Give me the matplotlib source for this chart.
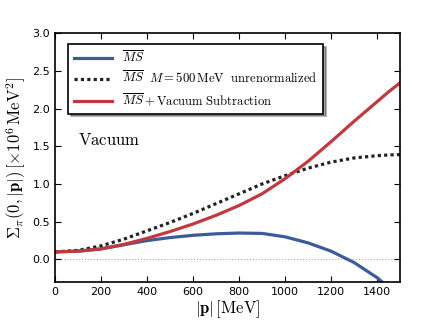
import matplotlib
matplotlib.use('Agg')
import matplotlib.pyplot as plt

plt.rcParams['mathtext.fontset'] = 'cm'

# momentum grid [MeV]
p = [0, 100, 200, 300, 400, 500, 600, 700, 800, 900, 1000, 1100, 1200, 1300, 1400, 1450, 1500]

# MSbar (blue)
ms = [0.10, 0.11, 0.14, 0.195, 0.25, 0.29, 0.32, 0.34, 0.35, 0.345, 0.30, 0.22, 0.11, -0.04, -0.24, -0.37, -0.50]
# MSbar M=500 MeV unrenormalized (dotted)
ms_unren = [0.10, 0.12, 0.18, 0.27, 0.38, 0.49, 0.61, 0.74, 0.87, 1.00, 1.11, 1.21, 1.29, 1.345, 1.375, 1.385, 1.39]
# MSbar + vacuum subtraction (red)
ms_vac = [0.10, 0.11, 0.14, 0.20, 0.28, 0.37, 0.47, 0.585, 0.715, 0.87, 1.07, 1.30, 1.56, 1.83, 2.09, 2.22, 2.34]

labels = [r'$\overline{MS}$',
          r'$\overline{MS}\ \ M=500\,\mathrm{MeV}\ \ \mathrm{unrenormalized}$',
          r'$\overline{MS}+\mathrm{Vacuum\ Subtraction}$']

blue = '#3A5C98'
red = '#C1393F'

fig = plt.figure(figsize=(4.21, 3.28), dpi=100)
ax = fig.add_axes([0.131, 0.140, 0.819, 0.759])

ax.axhline(0, color='#aaaaaa', lw=0.8, ls=':', zorder=0)
ax.plot(p, ms, color=blue, lw=2.3, label=labels[0])
ax.plot(p, ms_unren, color='#222222', lw=2.3, ls=(0, (1, 1)), label=labels[1])
ax.plot(p, ms_vac, color=red, lw=2.3, label=labels[2])

ax.set_xlim(0, 1500)
ax.set_ylim(-0.3, 3.0)
ax.set_xticks([0, 200, 400, 600, 800, 1000, 1200, 1400])
ax.set_yticks([0.0, 0.5, 1.0, 1.5, 2.0, 2.5, 3.0])
ax.tick_params(direction='in', top=True, right=True, labelsize=8, length=4)
for s in ax.spines.values():
    s.set_linewidth(1.2)

ax.set_xlabel(r'$|\mathbf{p}|\,[\mathrm{MeV}]$', fontsize=12, labelpad=1)
ax.set_ylabel(r'$\Sigma_\pi(0,|\mathbf{p}|)\,[\times 10^6\,\mathrm{MeV}^2]$', fontsize=12, labelpad=3)

ax.text(0.066, 0.57, r'$\mathrm{Vacuum}$', transform=ax.transAxes, fontsize=12, va='center')

leg = ax.legend(loc='upper left', bbox_to_anchor=(0.02, 0.98), fontsize=9.1,
                fancybox=False, shadow=True, frameon=True, handlelength=3.0,
                borderpad=0.45, labelspacing=0.38)
leg.get_frame().set_edgecolor('black')
leg.get_frame().set_linewidth(1.2)

fig.savefig('out.png', dpi=100)
